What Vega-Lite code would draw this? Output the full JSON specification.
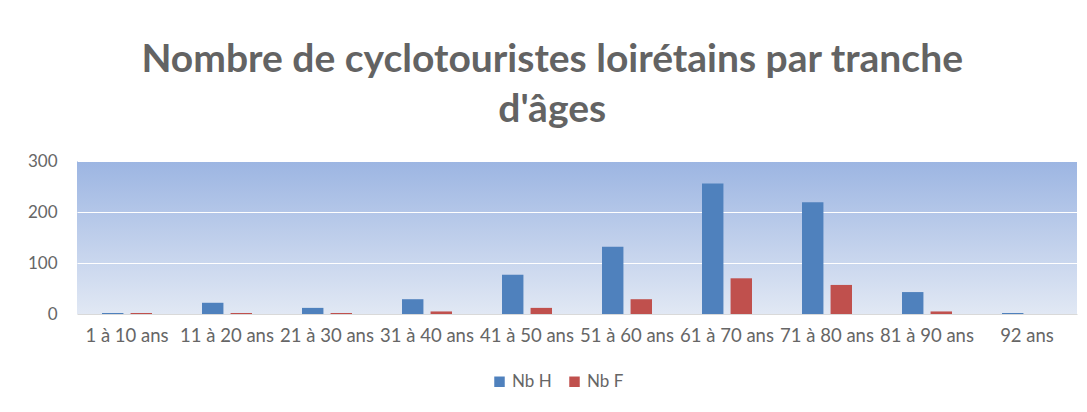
{
  "$schema": "https://vega.github.io/schema/vega-lite/v6.json",
  "width": 1000,
  "height": 153,
  "padding": {"left": 27, "top": 41, "right": 12, "bottom": 10},
  "background": "white",
  "title": {
    "text": ["Nombre de cyclotouristes loirétains par tranche", "d'âges"],
    "font": "Lato",
    "fontSize": 39,
    "fontWeight": "bold",
    "color": "#636363",
    "anchor": "middle",
    "frame": "bounds",
    "offset": 22,
    "lineHeight": 50
  },
  "data": {
    "values": [
      {"tranche": "1 à 10 ans", "serie": "Nb H", "valeur": 2},
      {"tranche": "1 à 10 ans", "serie": "Nb F", "valeur": 2},
      {"tranche": "11 à 20 ans", "serie": "Nb H", "valeur": 22},
      {"tranche": "11 à 20 ans", "serie": "Nb F", "valeur": 2},
      {"tranche": "21 à 30 ans", "serie": "Nb H", "valeur": 12},
      {"tranche": "21 à 30 ans", "serie": "Nb F", "valeur": 2},
      {"tranche": "31 à 40 ans", "serie": "Nb H", "valeur": 29},
      {"tranche": "31 à 40 ans", "serie": "Nb F", "valeur": 5},
      {"tranche": "41 à 50 ans", "serie": "Nb H", "valeur": 77},
      {"tranche": "41 à 50 ans", "serie": "Nb F", "valeur": 12},
      {"tranche": "51 à 60 ans", "serie": "Nb H", "valeur": 132},
      {"tranche": "51 à 60 ans", "serie": "Nb F", "valeur": 29},
      {"tranche": "61 à 70 ans", "serie": "Nb H", "valeur": 256},
      {"tranche": "61 à 70 ans", "serie": "Nb F", "valeur": 70},
      {"tranche": "71 à 80 ans", "serie": "Nb H", "valeur": 219},
      {"tranche": "71 à 80 ans", "serie": "Nb F", "valeur": 57},
      {"tranche": "81 à 90 ans", "serie": "Nb H", "valeur": 43},
      {"tranche": "81 à 90 ans", "serie": "Nb F", "valeur": 5},
      {"tranche": "92 ans", "serie": "Nb H", "valeur": 2},
      {"tranche": "92 ans", "serie": "Nb F", "valeur": 0}
    ]
  },
  "mark": {"type": "bar"},
  "encoding": {
    "x": {
      "field": "tranche",
      "type": "nominal",
      "sort": null,
      "scale": {"paddingInner": 0.5, "paddingOuter": 0.25},
      "axis": {
        "title": null,
        "labelAngle": 0,
        "labelFont": "Lato",
        "labelFontSize": 18.5,
        "labelColor": "#666666",
        "ticks": false,
        "domainColor": "#d9d9d9",
        "labelPadding": 12
      }
    },
    "xOffset": {
      "field": "serie",
      "sort": ["Nb H", "Nb F"],
      "scale": {"paddingInner": 0.25}
    },
    "y": {
      "field": "valeur",
      "type": "quantitative",
      "scale": {"domain": [0, 300]},
      "axis": {
        "title": null,
        "values": [0, 100, 200, 300],
        "grid": true,
        "gridColor": "white",
        "gridWidth": 1,
        "domain": false,
        "ticks": false,
        "labelFont": "Lato",
        "labelFontSize": 17,
        "labelColor": "#666666",
        "labelPadding": 20
      }
    },
    "color": {
      "field": "serie",
      "type": "nominal",
      "sort": ["Nb H", "Nb F"],
      "scale": {"domain": ["Nb H", "Nb F"], "range": ["#4f81bd", "#c0504d"]},
      "legend": {
        "orient": "none",
        "legendX": 414,
        "legendY": 212,
        "direction": "horizontal",
        "title": null,
        "symbolType": "square",
        "symbolSize": 110,
        "symbolStrokeWidth": 0,
        "labelFont": "Lato",
        "labelFontSize": 17,
        "labelColor": "#666666",
        "columnPadding": 14
      }
    }
  },
  "config": {
    "view": {
      "stroke": null,
      "fill": {
        "gradient": "linear",
        "x1": 0, "y1": 0, "x2": 0, "y2": 1,
        "stops": [
          {"offset": 0, "color": "#9cb5e2"},
          {"offset": 1, "color": "#e1e8f4"}
        ]
      }
    }
  }
}
